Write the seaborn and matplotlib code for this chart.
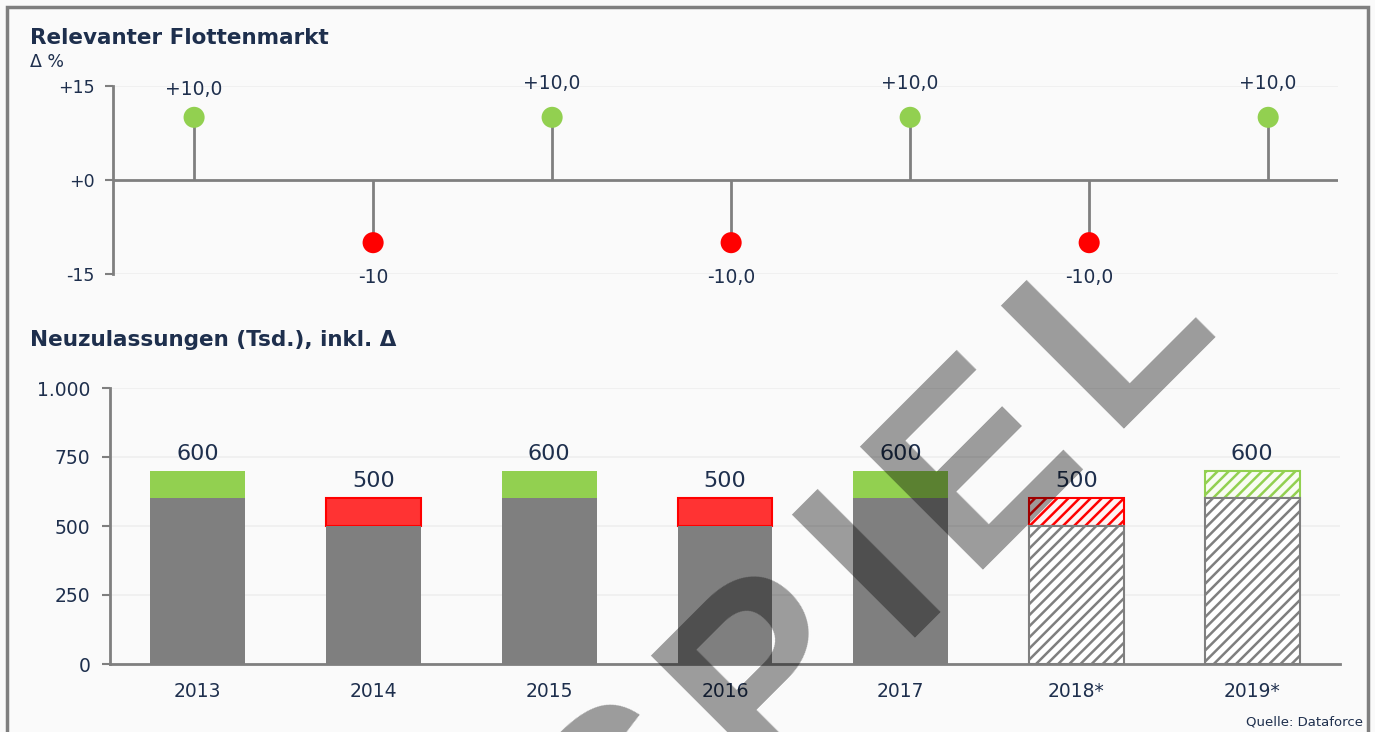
import matplotlib
matplotlib.use("Agg")
import matplotlib.pyplot as plt
import matplotlib.patches as mpatches
import numpy as np
import seaborn as sns

# data
market_change = [10, -10, 10, -10, 10, -10, 10]
market_labels = ['+10,0', '-10', '+10,0', '-10,0', '+10,0', '-10,0', '+10,0']
years = ['2013', '2014', '2015', '2016', '2017', '2018*', '2019*']
registrations = [600, 500, 600, 500, 600, 500, 600]
reg_delta = [100, -100, 100, -100, 100, -100, 100]
forecast = [False, False, False, False, False, True, True]

GREEN = '#92d050'
RED = '#ff0000'
RED_BAR = '#ff3333'
GREY = '#7f7f7f'
TXT = '#1e2f4d'
BG = '#fafafa'

sns.set_style('white')
plt.rcParams['font.family'] = ['DejaVu Sans']
plt.rcParams['hatch.linewidth'] = 1.8

W, H = 1375, 732
fig = plt.figure(figsize=(W / 100, H / 100), dpi=100, facecolor=BG)


def fx(px):
    return px / W


def fy(py):
    return 1 - py / H


# ---- top: lollipop ----
ax1 = fig.add_axes([fx(113), fy(274), fx(1338) - fx(113), fy(86) - fy(274)])
ax1.set_facecolor(BG)
xp = np.arange(len(market_change))
ax1.axhline(0, color=GREY, lw=2, zorder=1)
for v in (15, -15):
    ax1.axhline(v, color='#eeeeee', lw=1.2, zorder=0)
ax1.vlines(xp, 0, market_change, color=GREY, lw=2, zorder=2)
pt_colors = [GREEN if v > 0 else RED for v in market_change]
sns.scatterplot(x=xp, y=market_change, hue=xp, palette=pt_colors, s=230,
                edgecolor='none', legend=False, ax=ax1, zorder=3)
for i, (v, lab) in enumerate(zip(market_change, market_labels)):
    off = 24 if v > 0 else -25
    if i == 0:
        off = 20
    ax1.annotate(lab, (i, v), xytext=(0, off), textcoords='offset points',
                 ha='center', va='center', fontsize=13.5, color=TXT)
ax1.set_xlim(-0.453, 6.39)
ax1.set_ylim(-15, 15)
ax1.set_yticks([15, 0, -15])
ax1.set_yticklabels(['+15', '+0', '-15'])
ax1.set_xticks([])
for s in ['top', 'right', 'bottom']:
    ax1.spines[s].set_visible(False)
ax1.spines['left'].set_color(GREY)
ax1.spines['left'].set_linewidth(2)
ax1.tick_params(axis='y', length=6, width=1.5, color=GREY, pad=7,
                labelsize=12.5, labelcolor=TXT, left=True)

# ---- bottom: bars ----
ax2 = fig.add_axes([fx(110), fy(664), fx(1340) - fx(110), fy(388) - fy(664)])
ax2.set_facecolor(BG)
totals = [b + abs(d) for b, d in zip(registrations, reg_delta)]
seg_colors = [GREEN if d > 0 else RED_BAR for d in reg_delta]
sns.barplot(x=years, y=totals, hue=years, palette=seg_colors, saturation=1,
            width=0.54, legend=False, ax=ax2, zorder=2)
sns.barplot(x=years, y=registrations, color=GREY, saturation=1,
            width=0.54, ax=ax2, zorder=2)
n = len(years)
seg_patches = ax2.patches[:n]
base_patches = ax2.patches[n:]
for i in range(n):
    sp = seg_patches[i]
    bp = base_patches[i]
    # delta segment sits on top of the base value
    sp.set_y(registrations[i])
    sp.set_height(abs(reg_delta[i]))
    bp.set_edgecolor('none')
    if reg_delta[i] < 0:
        sp.set_edgecolor(RED)
        sp.set_linewidth(1.5)
    else:
        sp.set_edgecolor('none')
    if forecast[i]:
        bp.set_facecolor('white')
        bp.set_edgecolor(GREY)
        bp.set_linewidth(1.5)
        bp.set_hatch('///')
        sp.set_facecolor('#fff4f4' if reg_delta[i] < 0 else '#f8fcf2')
        sp.set_edgecolor(RED if reg_delta[i] < 0 else GREEN)
        sp.set_linewidth(1.5)
        sp.set_hatch('///')
for i, (t, v) in enumerate(zip(totals, registrations)):
    ax2.annotate(f'{v}', (i, t), xytext=(0, 5), textcoords='offset points',
                 ha='center', va='bottom', fontsize=16, color=TXT)
ax2.set_xlim(-0.5, 6.5)
ax2.set_ylim(0, 1000)
ax2.set_yticks([0, 250, 500, 750, 1000])
ax2.set_yticklabels(['0', '250', '500', '750', '1.000'])
ax2.yaxis.grid(True, color='#eeeeee', lw=1.2, zorder=0)
ax2.set_axisbelow(True)
ax2.set_xlabel('')
ax2.set_ylabel('')
for s in ['top', 'right']:
    ax2.spines[s].set_visible(False)
for s in ['left', 'bottom']:
    ax2.spines[s].set_color(GREY)
    ax2.spines[s].set_linewidth(2)
ax2.tick_params(axis='y', length=6, width=1.5, color=GREY, pad=8,
                labelsize=13.5, labelcolor=TXT, left=True)
ax2.tick_params(axis='x', length=0, pad=13, labelsize=13.5, labelcolor=TXT)

# ---- titles, notes, frame ----
fig.text(fx(30), fy(38), 'Relevanter Flottenmarkt', fontsize=15.5,
         fontweight='bold', color=TXT, va='center', ha='left')
fig.text(fx(30), fy(62), 'Δ %', fontsize=12.5, color=TXT, va='center', ha='left')
fig.text(fx(30), fy(340), 'Neuzulassungen (Tsd.), inkl. Δ', fontsize=15.5,
         fontweight='bold', color=TXT, va='center', ha='left')
fig.text(fx(1363), fy(722), 'Quelle: Dataforce', fontsize=9.5, color=TXT,
         va='center', ha='right')
fig.patches.append(mpatches.Rectangle((fx(7), fy(760)), fx(1368) - fx(7),
                                      fy(7) - fy(760), transform=fig.transFigure,
                                      fill=False, edgecolor=GREY, lw=2.5))

# watermark "(BEI)SPIEL", letters set along a 45 degree baseline with wide tracking
wm_letters = ['S', 'P', 'I', 'E', 'L']
wm_offsets = [-205, -16, 184, 280, 479]   # px along baseline
for ch, u in zip(wm_letters, wm_offsets):
    px = (1536 + u * np.sqrt(2)) / 2
    py = (1536 - u * np.sqrt(2)) / 2
    fig.text(fx(px), fy(py), ch, rotation=45, rotation_mode='anchor',
             ha='left', va='baseline', fontsize=182, fontweight='bold',
             family='Liberation Sans', color='black', alpha=0.38, zorder=10)

fig.savefig('out.png', dpi=100, facecolor=BG)
